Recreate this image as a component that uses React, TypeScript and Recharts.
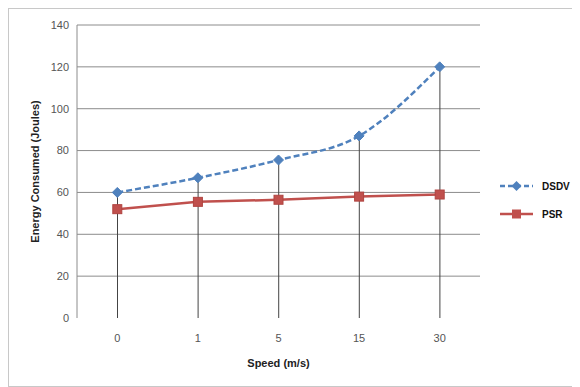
import React from 'react';
import { ComposedChart, Line, Bar, XAxis, YAxis, CartesianGrid, Legend } from 'recharts';

// Energy consumed by each routing protocol at different node speeds
const speeds = ['0', '1', '5', '15', '30'];
const dsdvEnergy = [60, 67, 75.5, 87, 120];
const psrEnergy = [52, 55.5, 56.5, 58, 59];
const yTicks = [0, 20, 40, 60, 80, 100, 120, 140];
const gridValues = [20, 40, 60, 80, 100, 120, 140];

const DSDV_COLOR = '#4F81BD';
const PSR_COLOR = '#C0504D';

const rows = speeds.map((speed, i) => ({
  speed,
  DSDV: dsdvEnergy[i],
  PSR: psrEnergy[i],
  drop: Math.max(dsdvEnergy[i], psrEnergy[i]),
}));

const Diamond = (props: any) => {
  const { cx, cy } = props;
  if (cx == null || cy == null) return null;
  const r = 5;
  return (
    <path
      d={`M${cx},${cy - r} L${cx + r},${cy} L${cx},${cy + r} L${cx - r},${cy} Z`}
      fill={DSDV_COLOR}
      stroke={DSDV_COLOR}
    />
  );
};

const Square = (props: any) => {
  const { cx, cy } = props;
  if (cx == null || cy == null) return null;
  const s = 4.5;
  return <rect x={cx - s} y={cy - s} width={s * 2} height={s * 2} fill={PSR_COLOR} stroke="#B04440" />;
};

const YTitle = (props: any) => {
  const vb = props.viewBox || {};
  const cx = 26;
  const cy = vb.y + vb.height / 2;
  return (
    <text
      x={cx}
      y={cy}
      transform={`rotate(-90 ${cx} ${cy})`}
      textAnchor="middle"
      dominantBaseline="central"
      fontFamily="Liberation Sans, Arial, sans-serif"
      fontWeight="bold"
      fontSize={11}
      fill="#222"
    >
      Energy Consumed (Joules)
    </text>
  );
};

const XTitle = (props: any) => {
  const vb = props.viewBox || {};
  const cx = vb.x + vb.width / 2;
  return (
    <text
      x={cx}
      y={358}
      textAnchor="middle"
      fontFamily="Liberation Sans, Arial, sans-serif"
      fontWeight="bold"
      fontSize={11}
      fill="#222"
    >
      Speed (m/s)
    </text>
  );
};

const LegendBox = () => {
  const items = [
    { name: 'DSDV', color: DSDV_COLOR, dashed: true, shape: 'diamond' },
    { name: 'PSR', color: PSR_COLOR, dashed: false, shape: 'square' },
  ];
  return (
    <div style={{ fontFamily: 'Liberation Sans, Arial, sans-serif' }}>
      {items.map((it) => (
        <div key={it.name} style={{ height: 28, display: 'flex', alignItems: 'center' }}>
          <svg width={42} height={14} style={{ display: 'block' }}>
            <line
              x1={0}
              y1={7}
              x2={33}
              y2={7}
              stroke={it.color}
              strokeWidth={2.5}
              strokeDasharray={it.dashed ? '5 3' : undefined}
            />
            {it.shape === 'diamond' ? (
              <path d="M16.5,2 L21.5,7 L16.5,12 L11.5,7 Z" fill={it.color} />
            ) : (
              <rect x={12} y={2.5} width={9} height={9} fill={it.color} />
            )}
          </svg>
          <span style={{ fontSize: 10, fontWeight: 'bold', color: '#111' }}>{it.name}</span>
        </div>
      ))}
    </div>
  );
};

export default function App() {
  return (
    <div
      style={{
        width: 575,
        height: 377,
        border: '1px solid #c8c8c8',
        background: '#fff',
        boxSizing: 'content-box',
      }}
    >
      <ComposedChart
        width={572}
        height={376}
        data={rows}
        margin={{ top: 16, right: 101, bottom: 27, left: 0 }}
      >
        <CartesianGrid horizontal vertical={false} horizontalValues={gridValues} stroke="#8c8c8c" />
        <XAxis
          dataKey="speed"
          height={40}
          axisLine={false}
          tickLine={false}
          tickSize={0}
          tickMargin={16}
          tick={{ fontSize: 11, fill: '#555', fontFamily: 'Liberation Sans, Arial, sans-serif' }}
          label={<XTitle />}
        />
        <YAxis
          width={68}
          domain={[0, 140]}
          ticks={yTicks}
          interval={0}
          axisLine={{ stroke: '#8c8c8c' }}
          tickLine={false}
          tickSize={0}
          tickMargin={8}
          tick={{ fontSize: 11, fill: '#555', fontFamily: 'Liberation Sans, Arial, sans-serif' }}
          label={<YTitle />}
        />
        <Bar dataKey="drop" barSize={1} fill="#444" isAnimationActive={false} legendType="none" />
        <Line
          dataKey="PSR"
          type="linear"
          stroke={PSR_COLOR}
          strokeWidth={2.5}
          dot={<Square />}
          activeDot={false}
          isAnimationActive={false}
        />
        <Line
          dataKey="DSDV"
          type="monotone"
          stroke={DSDV_COLOR}
          strokeWidth={2.5}
          strokeDasharray="6 3"
          dot={<Diamond />}
          activeDot={false}
          isAnimationActive={false}
        />
        <Legend
          layout="horizontal"
          verticalAlign="middle"
          align="center"
          content={<LegendBox />}
          wrapperStyle={{ left: 491, top: 163, width: 80 }}
        />
      </ComposedChart>
    </div>
  );
}
